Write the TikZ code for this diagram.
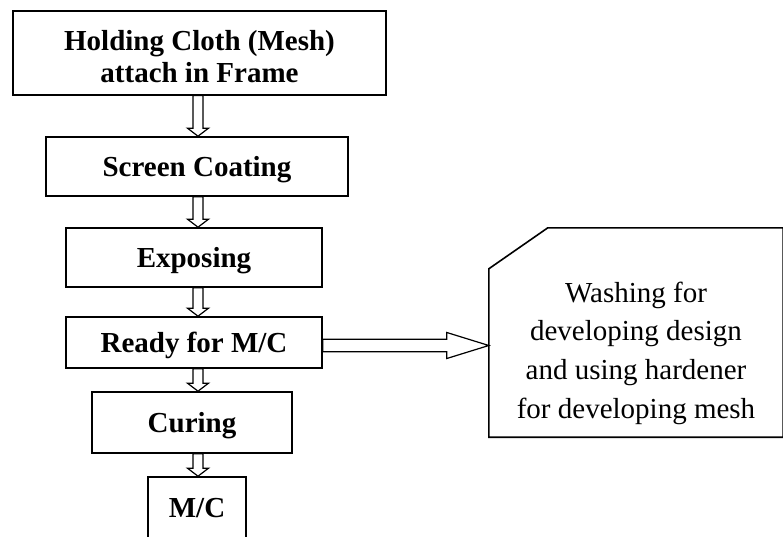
\documentclass[tikz,border=0pt]{standalone}
\usepackage{fontspec}
\setmainfont{Liberation Serif}
\usetikzlibrary{calc}

% hollow block arrow pointing down, from the bottom of #1 to the top of #2
\newcommand\downblock[2]{%
  \draw[hollow] let \p1=(#1.south), \p2=(#2.north) in
    (193pt,\y1) -- (203pt,\y1) -- (203pt,\y2+8pt) -- (208.5pt,\y2+8pt)
    -- (198pt,\y2) -- (187.5pt,\y2+8pt) -- (193pt,\y2+8pt) -- cycle;}

\begin{document}
\begin{tikzpicture}[x=1pt,y=-1pt,
  stepbox/.style={draw, line width=1.6pt, inner sep=0pt, align=center,
    font=\bfseries\fontsize{29}{32}\selectfont, text height=19.6pt, text depth=0pt},
  steptext/.style={inner sep=0pt, align=center, font=\bfseries\fontsize{29}{32}\selectfont},
  hollow/.style={draw, line width=1.2pt, fill=white, line join=miter}]
\useasboundingbox (0,0) rectangle (783,537);
\clip (0,0) rectangle (783,537);

% process steps
\node[stepbox, minimum width=373pt, minimum height=84pt] (hold) at (199.5,52.8) {};
\node[steptext] (holdtext) at (199.5,56.3) {Holding Cloth (Mesh)\\attach in Frame};
\node[stepbox, minimum width=302pt, minimum height=59pt] (coat) at (197,166.5) {Screen Coating};
\node[stepbox, minimum width=256pt, minimum height=59pt] (expo) at (194,257.5) {Exposing};
\node[stepbox, minimum width=256pt, minimum height=51pt] (ready) at (194,342.5) {Ready for M/C};
\node[stepbox, minimum width=200pt, minimum height=61pt] (cure) at (192,422.5) {Curing};
\node[stepbox, minimum width=98pt, minimum height=62pt] (mc) at (197,508) {M/C};

% note with a cut corner
\node[minimum width=294pt, minimum height=209pt, inner sep=0pt] (washbox) at (636,332.5) {};
\draw[line width=1.6pt, line join=miter]
  (washbox.south west) -- ($(washbox.north west)+(0,41)$) -- ($(washbox.north west)+(59,0)$)
  -- (washbox.north east) -- (washbox.south east) -- cycle;
\node[font=\fontsize{29}{38.9}\selectfont, align=center, inner sep=0pt] (washtext) at (636,353.3)
  {Washing for\\developing design\\and using hardener\\for developing mesh};

% block arrows
\downblock{hold}{coat}
\downblock{coat}{expo}
\downblock{expo}{ready}
\downblock{ready}{cure}
\downblock{cure}{mc}
\draw[hollow] let \p1=($(ready.east)+(0,3)$), \p2=(washbox.west) in
  (\x1,\y1+6.2pt) -- (\x2-42pt,\y1+6.2pt) -- (\x2-42pt,\y1+13pt) -- (\x2,\y1)
  -- (\x2-42pt,\y1-13pt) -- (\x2-42pt,\y1-6.2pt) -- (\x1,\y1-6.2pt) -- cycle;
\end{tikzpicture}
\end{document}
